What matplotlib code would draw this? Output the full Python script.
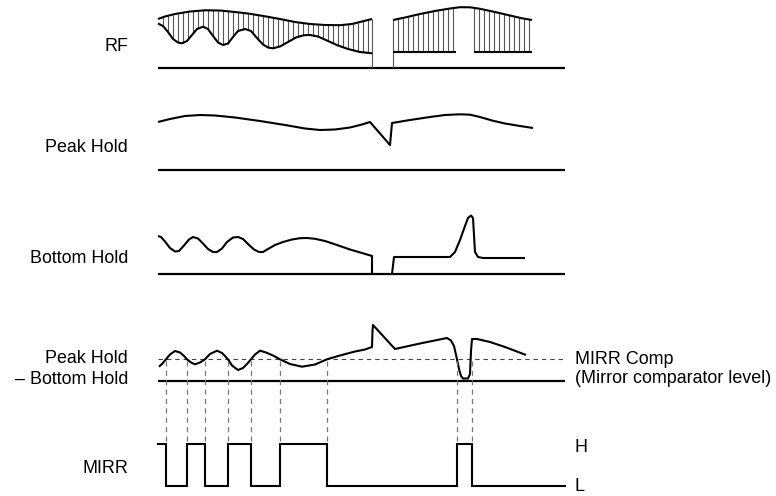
import numpy as np
import matplotlib
matplotlib.use("Agg")
import matplotlib.pyplot as plt

# ---------------- data (time in px-units, amplitude above each trace's baseline) -------------
rf_upper_left_t = [158, 165, 175, 190, 205, 220, 235, 250, 265, 280, 295, 310, 325, 340, 352, 362, 372]
rf_upper_left_a = [49, 51.5, 54, 56.5, 57.7, 57.5, 56, 54.2, 51.7, 49, 46, 44, 43, 42.8, 44, 46.5, 49]
rf_lower_left_t = [158, 163, 168, 173, 178, 182, 187, 192, 197, 203, 208, 213, 218, 223, 228, 233, 238,
                   245, 251, 257, 263, 268, 273, 280, 288, 296, 304, 310, 318, 328, 338, 348, 360, 372]
rf_lower_left_a = [44.5, 42, 36, 29, 25.5, 24.7, 27, 33, 39, 41.3, 39, 32, 25.5, 23, 24.5, 31, 37,
                   39, 37, 30, 23.5, 20.5, 19.7, 21.5, 26, 30.5, 32.8, 33, 31.5, 27, 22.5, 19, 16, 14.7]
rf_upper_right_t = [393, 405, 420, 435, 450, 460, 470, 480, 495, 510, 522, 532]
rf_upper_right_a = [48, 50.5, 54, 57, 59.5, 60.8, 60.7, 59.2, 56, 52.5, 49.7, 48]
rf_lower_right_t = [[393, 456], [474, 532]]
rf_lower_right_a = 16.3

peak_t = [158, 170, 185, 200, 215, 235, 260, 285, 305, 320, 335, 350, 362, 370, 390, 392,
          410, 430, 445, 460, 470, 480, 492, 505, 520, 533]
peak_a = [48, 51, 54, 55, 54.5, 52.5, 49, 45, 41.5, 40, 40.5, 42.5, 45.5, 48, 25, 47,
          50, 53, 55, 55.7, 55.3, 53, 49.5, 46.5, 44, 42]

bottom1_t = [158, 161, 165, 170, 175, 179, 184, 189, 193, 198, 203, 208, 213, 217, 222, 227, 233, 238,
             243, 248, 254, 259, 263, 268, 275, 283, 292, 300, 307, 315, 325, 337, 350, 362, 372, 372]
bottom1_a = [38, 37, 32.5, 26, 22.5, 23, 28.5, 34.5, 37, 35.5, 30.5, 25, 22, 22, 25.5, 32, 36.5, 37,
             35, 30, 24.5, 22, 22, 25, 29, 32, 34.5, 35.8, 36, 35.2, 33, 29, 24.5, 21, 18, 0]
bottom2_t = [392, 394, 450, 455, 460, 465, 468, 471, 473, 474, 475, 478, 483, 525]
bottom2_a = [0, 17, 17, 22, 34, 48, 56, 58.5, 56, 39, 22, 17, 16, 16]

diff_t = [159, 162, 166, 170, 175, 180, 184, 187, 191, 195, 200, 205, 210, 217, 222, 225, 228, 232,
          238, 243, 247, 251, 255, 260, 266, 273, 280, 290, 302, 315, 327, 340, 355, 365, 372,
          372.5, 373, 395, 420, 447, 451, 454, 457, 459, 461, 463, 468, 470, 471, 472, 477, 490, 505, 526]
diff_a = [14.3, 17, 21.7, 26.5, 30, 28.5, 25, 21.7, 18.5, 16.7, 18.5, 21.7, 27, 30.3, 28, 25, 21.7, 15.5,
          11, 13, 17, 21.7, 26.5, 30.3, 28.5, 25.5, 21.7, 17, 14.3, 16.5, 21.7, 25.5, 29.5, 31.5, 34,
          50, 56, 32, 37.5, 43, 40.5, 35, 21.7, 12, 5, 2.5, 2.5, 7, 30, 42, 42, 39, 34, 26]
comp_level = 21.7

mirr_edges = [158, 166, 187, 205, 228, 251, 280, 327, 457, 472, 565]
mirr_levels = [1, 0, 1, 0, 1, 0, 1, 0, 1, 0, 0]

left_labels = ["RF", "Peak Hold", "Bottom Hold", "Peak Hold", "\u2013 Bottom Hold", "MIRR"]
right_labels = ["MIRR Comp", "(Mirror comparator level)", "H", "L"]

# ---------------- layout ----------------
BASE_RF, BASE_PH, BASE_BH, BASE_DIFF, BASE_MIRR = 68, 170, 274, 381, 486
MIRR_H = 42
X0, X1 = 158, 565
LW = 1.5
FONT = dict(family=["Liberation Sans", "DejaVu Sans"], fontsize=12.9, color="black")

fig = plt.figure(figsize=(7.76, 4.96), dpi=100)
ax = fig.add_axes([0, 0, 1, 1])
ax.set_xlim(0, 776)
ax.set_ylim(496, 0)
ax.axis("off")


def trace(t, a, base, **kw):
    ax.plot(t, base - np.asarray(a, float), color="black", lw=LW,
            solid_joinstyle="round", solid_capstyle="butt", **kw)


# baselines
for b in (BASE_RF, BASE_PH, BASE_BH, BASE_DIFF):
    ax.plot([X0, X1], [b, b], color="black", lw=1.6, solid_capstyle="butt")

# ---- RF with hatching ----
hatch_kw = dict(colors="#555555", lw=0.8)
hx = np.arange(163, 372, 5)
ax.vlines(hx, BASE_RF - np.interp(hx, rf_upper_left_t, rf_upper_left_a),
          BASE_RF - np.interp(hx, rf_lower_left_t, rf_lower_left_a), **hatch_kw)
ax.vlines([372], BASE_RF - np.interp(372, rf_upper_left_t, rf_upper_left_a), BASE_RF, **hatch_kw)
for (s, e) in rf_lower_right_t:
    hx = np.arange(s, e + 1, 5)
    ax.vlines(hx, BASE_RF - np.interp(hx, rf_upper_right_t, rf_upper_right_a),
              BASE_RF - rf_lower_right_a, **hatch_kw)
ax.vlines([393], BASE_RF - rf_lower_right_a, BASE_RF, **hatch_kw)

trace(rf_upper_left_t, rf_upper_left_a, BASE_RF)
trace(rf_lower_left_t, rf_lower_left_a, BASE_RF)
trace(rf_upper_right_t, rf_upper_right_a, BASE_RF)
for (s, e) in rf_lower_right_t:
    trace([s, e], [rf_lower_right_a] * 2, BASE_RF)

# ---- Peak hold ----
trace(peak_t, peak_a, BASE_PH)

# ---- Bottom hold ----
trace(bottom1_t, bottom1_a, BASE_BH)
trace(bottom2_t, bottom2_a, BASE_BH)

# ---- Peak - Bottom ----
ax.plot([X0, X1 - 2], [BASE_DIFF - comp_level] * 2, color="#444444", lw=0.8,
        dashes=(4, 3.5))
trace(diff_t, diff_a, BASE_DIFF)

# dashed verticals from comparator crossings down to MIRR
ax.vlines(mirr_edges[1:-1], BASE_DIFF - comp_level + 2, BASE_MIRR - MIRR_H - 2,
          colors="#777777", lw=0.9, linestyles=(0, (4, 3.5)))

# ---- MIRR ----
ax.step(mirr_edges, BASE_MIRR - MIRR_H * np.asarray(mirr_levels), where="post",
        color="black", lw=LW, solid_joinstyle="miter")

# ---- labels ----
lx = 128
for txt, y in zip(left_labels, [50.7, 151.7, 262.7, 363.3, 384.3, 472.7]):
    ax.text(lx, y, txt, ha="right", va="baseline", **FONT)
rx = 575
for txt, y in zip(right_labels, [364.3, 383.3, 451.7, 490.7]):
    ax.text(rx, y, txt, ha="left", va="baseline", **FONT)

fig.savefig("out.png", dpi=100)
